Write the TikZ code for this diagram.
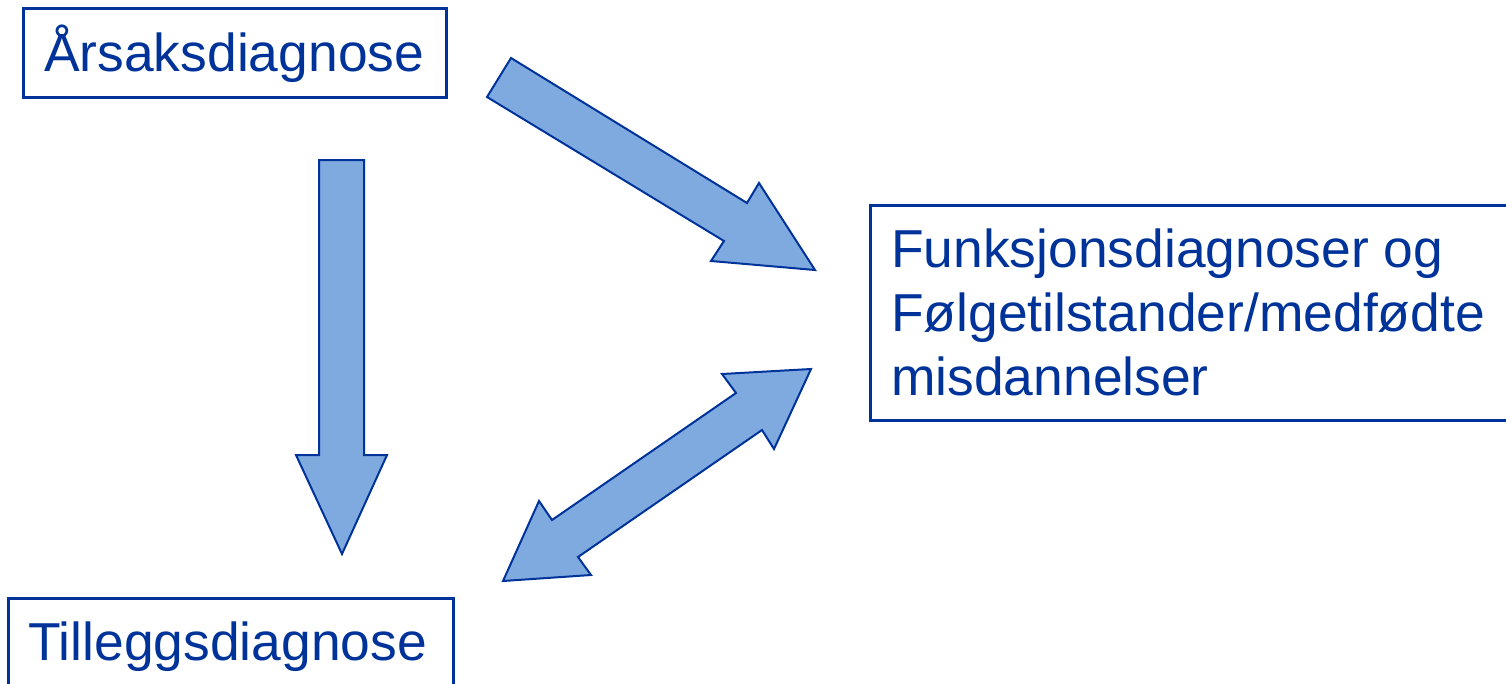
\documentclass[tikz,border=0pt]{standalone}
\usepackage{fontspec}
\setmainfont{Liberation Sans}
\definecolor{dblue}{RGB}{0,51,153}
\definecolor{lblue}{RGB}{127,170,224}
\begin{document}
\begin{tikzpicture}[x=1pt,y=-1pt,
  boxline/.style={draw=dblue,line width=3pt},
  lbl/.style={anchor=base west,inner sep=0pt,text=dblue,font=\fontsize{53.4}{64}\selectfont},
  blockarrow/.style={draw=dblue,fill=lblue,line width=2pt,line join=miter}]
\useasboundingbox (0,0) rectangle (1506,683);
\clip (0,0) rectangle (1506,683);
% boxes
\draw[boxline] (23,8) rectangle (446,97);
\draw[boxline] (8,598) rectangle (453,700);
\draw[boxline] (870,205) rectangle (1520,420);
% labels
\node[lbl] (arsak) at (44,71) {Årsaksdiagnose};
\node[lbl] (tillegg) at (28,660) {Tilleggsdiagnose};
\node[lbl] (funk1) at (891,267) {Funksjonsdiagnoser og};
\node[lbl] (funk2) at (891,331) {Følgetilstander/medfødte};
\node[lbl] (funk3) at (891,395) {misdannelser};
% down arrow
\draw[blockarrow] (319,160) -- (364,160) -- (364,455) -- (387,455) -- (342,554)
  -- (296,455) -- (319,455) -- cycle;
% diagonal arrow
\draw[blockarrow] (511,58) -- (747,203) -- (759,183) -- (815,270) -- (711,261)
  -- (724,241) -- (487,97) -- cycle;
% double arrow
\draw[blockarrow] (811,369) -- (774,449) -- (762,430) -- (578,557) -- (591,575)
  -- (503,581) -- (539,501) -- (552,520) -- (736,393) -- (722,374) -- cycle;
\end{tikzpicture}
\end{document}
